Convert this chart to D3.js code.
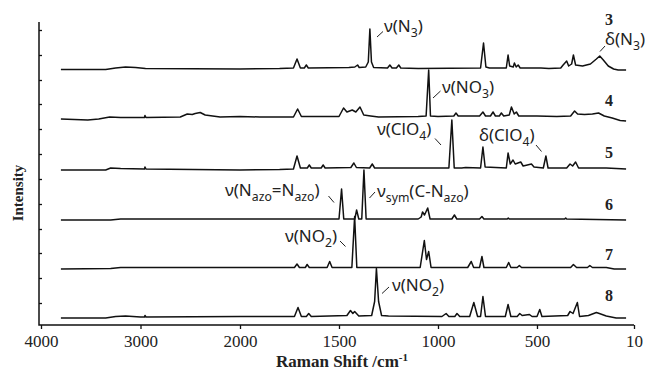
<!DOCTYPE html>
<html>
<head>
<meta charset="utf-8">
<script src="https://cdn.jsdelivr.net/npm/d3@7"></script>
<style>
  body { margin: 0; background: #fff; }
  svg { display: block; }
</style>
</head>
<body>
<script>
// Raman spectra of compounds 3-8, points as [wavenumber, intensity above own baseline]
const samples = ["3", "4", "5", "6", "7", "8"]
const offsets = [257, 209, 157, 106, 57.5, 8.5]

const spec3 = [[3800,-1.5],[3350,-1.5],[3250,0],[3150,1],[3050,0.5],[2950,-0.5],[2000,-1],[1800,-0.5],
  [1730,0],[1712,9],[1695,0],[1675,0],[1665,3],[1655,0],[1450,0.5],[1420,1],[1406,3],[1398,0.5],[1365,1],
  [1352,6],[1344,39],[1336,6],[1325,0.5],[1255,0],[1243,3],[1232,0],[1210,0],[1198,3],[1188,0],[1100,-0.5],
  [785,0],[770,25],[758,1],[740,0],[655,0],[646,13],[638,2],[620,1],[614,5],[605,1],[595,3],[585,0],[480,0],
  [440,-0.5],[380,0],[368,3],[350,7],[340,2],[325,4],[316,13],[305,3],[270,2],[230,4],[200,9],[183,12],[165,8],
  [140,2],[113,-1],[90,-2],[50,-2]]
const spec4 = [[3800,-3],[3530,-4],[3420,-3],[3310,-1],[3200,-1.5],[2960,-1.5],[2955,0.5],[2945,-1.5],[2600,-1],
  [2530,2],[2480,1.5],[2450,2.5],[2400,3.5],[2350,1],[2200,-1],[2000,-0.5],[1900,-1],[1730,-1],[1709,7],[1690,-0.5],
  [1500,-0.5],[1477,8],[1460,4],[1433,6],[1415,4],[1394,9],[1375,1],[1340,0],[1300,-1],[1100,-0.5],[1060,0],
  [1047,46],[1038,0],[1000,-0.5],[920,0],[909,3],[898,0],[790,0],[773,4],[760,0],[735,0],[722,4],[710,0],[690,0],
  [680,3],[668,0],[640,1],[629,9],[615,2],[604,4],[592,0],[500,0],[400,-0.5],[330,0],[310,5],[295,2],[260,1.5],
  [220,2],[189,3],[160,0],[120,-2],[80,-4.5],[50,-5]]
const spec5 = [[3800,-2],[3350,-2],[3300,0],[3200,-0.5],[2960,-1],[2955,1],[2945,-1],[2000,-2],[1800,-1.5],
  [1730,-1],[1712,12],[1695,0],[1660,0],[1650,3],[1640,0],[1590,0],[1580,3],[1570,0],[1440,0.5],[1425,5],
  [1412,0.5],[1345,0],[1332,4],[1320,0],[1100,0],[945,0],[930,48],[918,0],[880,0],[860,0.5],[785,0],[773,21],
  [762,1],[655,0],[646,15],[635,4],[621,8],[610,4],[582,6],[570,2],[528,4],[515,1],[468,0],[455,12],[444,0],
  [350,0],[333,4],[320,2],[305,6],[290,0],[150,0],[50,-1]]
const spec6 = [[3800,-1],[3300,-1],[3200,0],[2900,0],[2000,0],[1500,0],[1487,30],[1476,0],[1420,0],[1411,9],
  [1400,0],[1385,0],[1374,49],[1363,0],[1100,0],[1085,2],[1078,7],[1068,4],[1052,11],[1040,0],[930,0],[917,4],
  [905,0],[790,0],[778,2.5],[768,0],[650,0],[645,1],[640,0],[360,0],[355,1],[350,0],[50,-1]]
const spec7 = [[3800,-1.5],[3300,-1],[3200,0],[2000,0],[1725,0],[1712,3.5],[1700,0],[1670,0],[1661,3],[1650,0],
  [1560,0],[1547,6],[1535,0],[1435,0],[1421,51],[1410,0],[1090,0],[1069,27],[1058,8],[1047,16],[1035,0],[850,0],
  [832,6],[820,0],[790,0],[778,11],[768,0],[655,0],[643,5],[632,0],[600,0],[589,2],[578,0],[330,0],[316,3],
  [300,0],[245,0],[233,2],[220,0],[150,0],[110,-1.5],[50,-1.5]]
const spec8 = [[3800,-1.5],[3350,-1.5],[3250,0],[3150,0.5],[3000,-0.5],[2960,-0.5],[2955,1],[2945,-0.5],[2000,0],
  [1725,0],[1707,9],[1690,0],[1665,0],[1653,3],[1640,0],[1460,1],[1442,6],[1430,3],[1421,5],[1400,0.5],[1335,1],
  [1320,15],[1311,48],[1300,15],[1285,1],[1250,0.5],[980,0],[959,3],[945,0],[915,0],[904,3],[890,0],[840,0],
  [819,14],[800,0],[785,0],[773,20],[760,0],[660,0],[646,12],[632,0],[600,0],[587,3],[575,1],[538,2],[525,0],
  [500,0],[486,7],[475,0],[345,1],[333,5],[318,3],[296,14],[285,0],[240,1],[200,4],[185,3],[150,0.5],[100,-1.5],
  [50,-1.5]]
const spectra = [spec3, spec4, spec5, spec6, spec7, spec8]

const xTicks = [4000, 3000, 2000, 1500, 1000, 500, 10]
const yTicks = [22, 47, 72, 96, 121, 146, 171, 196, 221, 245, 270, 295]

// band assignments: [text, x, y, leader x1, y1, x2, y2]
const notes = [
  ["ν(N_{3})", 384, 32, 377, 37, 383, 31.5],
  ["ν(NO_{3})", 442, 93, 433, 98, 440.5, 91],
  ["δ(N_{3})", 605, 45, 600, 51.5, 605, 46],
  ["ν(ClO_{4})", 377, 135, 435, 138.5, 441, 145],
  ["δ(ClO_{4})", 479, 141, 536, 145, 541.5, 151.5],
  ["ν(N_{azo}=N_{azo})", 225, 196, 328.5, 196, 334, 202.5],
  ["ν_{sym}(C-N_{azo})", 377, 197, 369.5, 198, 375, 192],
  ["ν(NO_{2})", 285, 242, 340, 241, 345.5, 246.5],
  ["ν(NO_{2})", 392, 291, 382, 293.5, 389, 287]
]
const numberY = [25, 106, 158, 210, 260, 301]

const width = 645, height = 374

const svg = d3.select("body").append("svg")
  .attr("width", width)
  .attr("height", height)

// axis is broken in scale: 4000-2000 compressed to half of 2000-10
const x = d3.scaleLinear().domain([4000, 2000, 10]).range([41, 240, 634])
const y = d3.scaleLinear().domain([0, 303]).range([325, 22])

const line = d3.line()
  .x(d => x(d[0]))

svg.append("g")
  .selectAll("path")
  .data(spectra)
  .enter().append("path")
  .attr("d", (s, i) => line.y(d => y(d[1] + offsets[i]))(s))
  .attr("fill", "none")
  .attr("stroke", "#111")
  .attr("stroke-width", 1.5)
  .attr("stroke-linejoin", "round")

// axes
const xAxis = svg.append("g")
  .attr("transform", `translate(0,${y(0)})`)
  .call(d3.axisBottom(x).tickValues(xTicks).tickSize(4).tickSizeOuter(0).tickPadding(6).tickFormat(d3.format("d")))
xAxis.select(".domain").remove()
xAxis.selectAll("line").attr("stroke", "#111").attr("stroke-width", 1.3)
xAxis.selectAll("text")
  .attr("font-family", "'Liberation Serif', serif")
  .attr("font-size", 17)
  .attr("fill", "#222")

const yAxis = svg.append("g")
  .attr("transform", "translate(39,0)")
  .call(d3.axisLeft(y).tickValues(yTicks).tickSize(-3).tickSizeOuter(0).tickFormat(""))
yAxis.select(".domain").remove()
yAxis.selectAll("line").attr("stroke", "#111").attr("stroke-width", 1.3)

svg.append("path")
  .attr("d", `M39,${y(303)}V${y(0)}H${x(10)}`)
  .attr("fill", "none")
  .attr("stroke", "#111")
  .attr("stroke-width", 1.5)

svg.append("text")
  .attr("x", 342)
  .attr("y", 367)
  .attr("text-anchor", "middle")
  .attr("font-family", "'Liberation Serif', serif")
  .attr("font-weight", "bold")
  .attr("font-size", 17)
  .attr("fill", "#222")
  .call(t => {
    t.append("tspan").text("Raman Shift /cm")
    t.append("tspan").attr("font-size", 11).attr("dy", -6).text("-1")
  })

svg.append("text")
  .attr("transform", "translate(23,193) rotate(-90)")
  .attr("text-anchor", "middle")
  .attr("font-family", "'Liberation Serif', serif")
  .attr("font-weight", "bold")
  .attr("font-size", 15)
  .attr("fill", "#222")
  .text("Intensity")

// sample numbers
svg.append("g")
  .selectAll("text")
  .data(samples)
  .enter().append("text")
  .attr("x", 609)
  .attr("y", (d, i) => numberY[i])
  .attr("text-anchor", "middle")
  .attr("font-family", "'Liberation Serif', serif")
  .attr("font-weight", "bold")
  .attr("font-size", 16)
  .attr("fill", "#222")
  .text(d => d)

function richText(sel, str, size) {
  let shift = 0
  str.split(/(_\{[^}]*\})/).forEach(p => {
    if (!p) return
    const sub = p.startsWith("_{")
    const target = sub ? size * 0.3 : 0
    sel.append("tspan")
      .attr("dy", target - shift)
      .attr("font-size", sub ? size * 0.72 : size)
      .text(sub ? p.slice(2, -1) : p)
    shift = target
  })
}

const noteG = svg.append("g")
notes.forEach(n => {
  noteG.append("text")
    .attr("x", n[1])
    .attr("y", n[2])
    .attr("font-family", "'Noto Sans', sans-serif")
    .attr("fill", "#222")
    .call(t => richText(t, n[0], 17))
  noteG.append("line")
    .attr("x1", n[3]).attr("y1", n[4])
    .attr("x2", n[5]).attr("y2", n[6])
    .attr("stroke", "#222")
    .attr("stroke-width", 1)
})
</script>
</body>
</html>
